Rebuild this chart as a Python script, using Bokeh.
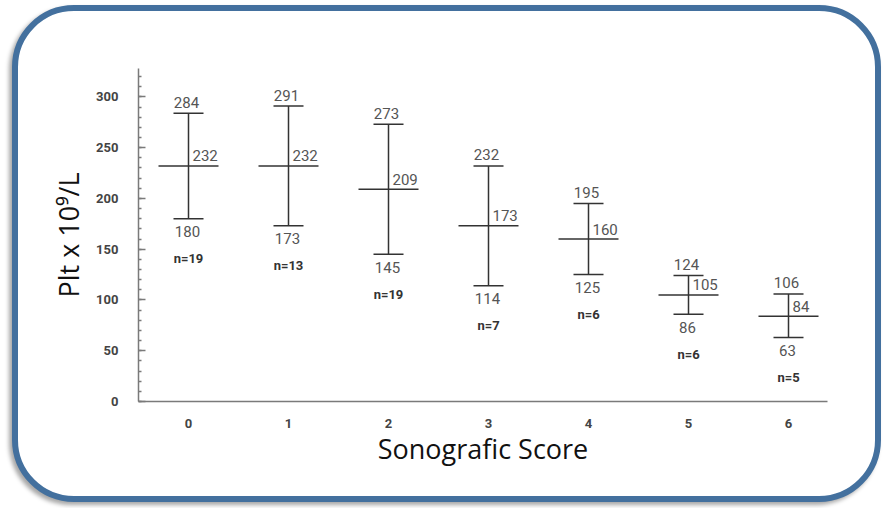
from bokeh.plotting import figure
from bokeh.models import (Range1d, FixedTicker, ColumnDataSource,
                          Whisker, TeeHead, LabelSet)
from bokeh.core.properties import value
from bokeh.embed import file_html
from bokeh.resources import INLINE

# ---- data ----
scores = [0, 1, 2, 3, 4, 5, 6]
means = [232, 232, 209, 173, 160, 105, 84]
uppers = [284, 291, 273, 232, 195, 124, 106]
lowers = [180, 173, 145, 114, 125, 86, 63]
ns = [19, 13, 19, 7, 6, 6, 5]
y_ticks = [0, 50, 100, 150, 200, 250, 300]
y_minor = list(range(0, 330, 10))

x_title = "Sonografic Score"
y_title = "Plt x 10\u2079/L"

# ---- layout ----
OX, OY = 18, 11          # canvas origin on the page (margin + border)
W, H = 869, 497
FL, FR, FT, FB = 138 - OX, 827 - OX, 68 - OY, 401 - OY
X0, X1 = -0.5, 6.39
Y0, Y1 = 0, 328

p = figure(width=W, height=H, output_backend="svg", toolbar_location=None,
           x_range=Range1d(X0, X1), y_range=Range1d(Y0, Y1),
           min_border_left=FL, min_border_right=W - FR,
           min_border_top=FT, min_border_bottom=H - FB)
p.outline_line_color = None
p.xgrid.visible = False
p.ygrid.visible = False
p.background_fill_color = None
p.border_fill_color = None
# rounded blue frame with a soft shadow around the whole chart
p.styles = {
    "box-sizing": "border-box",
    "overflow": "hidden",
    "border": "6px solid #43709e",
    "border-radius": "62px",
    "box-shadow": "-3px 3px 4px rgba(0,0,0,0.35)",
    "margin": "5px 0px 0px 12px",
    "background-color": "white",
}

axis_col = "#7a7a7a"
tick_font = "Roboto"

# x axis
p.xaxis.ticker = FixedTicker(ticks=scores)
p.xaxis.major_tick_line_color = None
p.xaxis.minor_tick_line_color = None
p.xaxis.axis_line_color = axis_col
p.xaxis.axis_line_width = 1.5
p.xaxis.major_label_text_font = tick_font
p.xaxis.major_label_text_font_style = "bold"
p.xaxis.major_label_text_font_size = "13px"
p.xaxis.major_label_text_color = "#444444"
p.xaxis.major_label_standoff = 11
p.xaxis.axis_label = x_title
p.xaxis.axis_label_text_font = "Open Sans"
p.xaxis.axis_label_text_font_style = "normal"
p.xaxis.axis_label_text_font_size = "27px"
p.xaxis.axis_label_text_color = "#111111"
p.xaxis.axis_label_standoff = -1

# y axis
p.yaxis.ticker = FixedTicker(ticks=y_ticks, minor_ticks=y_minor)
p.yaxis.axis_line_color = axis_col
p.yaxis.axis_line_width = 1.5
p.yaxis.major_tick_line_color = axis_col
p.yaxis.major_tick_line_width = 1.5
p.yaxis.major_tick_in = 7
p.yaxis.major_tick_out = 0
p.yaxis.minor_tick_line_color = axis_col
p.yaxis.minor_tick_line_width = 1.5
p.yaxis.minor_tick_in = 3
p.yaxis.minor_tick_out = 0
p.yaxis.major_label_text_font = tick_font
p.yaxis.major_label_text_font_style = "bold"
p.yaxis.major_label_text_font_size = "13px"
p.yaxis.major_label_text_color = "#444444"
p.yaxis.major_label_standoff = 20
p.yaxis.axis_label = y_title
p.yaxis.axis_label_text_font = "Open Sans"
p.yaxis.axis_label_text_font_style = "normal"
p.yaxis.axis_label_text_font_size = "27px"
p.yaxis.axis_label_text_color = "#111111"
p.yaxis.axis_label_standoff = 6

# ---- error bars ----
src = ColumnDataSource(dict(
    x=scores, mean=means, upper=uppers, lower=lowers,
    up_txt=[str(v) for v in uppers],
    lo_txt=[str(v) for v in lowers],
    mean_txt=[str(v) for v in means],
    n_txt=["n=%d" % v for v in ns],
))

bar_col = "#333333"
whisk = Whisker(source=src, base="x", upper="upper", lower="lower",
                dimension="height", line_color=bar_col, line_width=1.5,
                upper_head=TeeHead(size=30, line_color=bar_col, line_width=1.5),
                lower_head=TeeHead(size=30, line_color=bar_col, line_width=1.5))
p.add_layout(whisk)
p.dash(x="x", y="mean", size=60, line_color=bar_col, line_width=1.5, source=src)

val_col = "#555555"
common = dict(source=src, text_font=value("Roboto"), text_font_size=value("15px"),
              text_color=val_col, text_baseline="middle")
p.add_layout(LabelSet(x="x", y="upper", text="up_txt", x_offset=-2, y_offset=11,
                      text_align="center", **common))
p.add_layout(LabelSet(x="x", y="lower", text="lo_txt", x_offset=-1, y_offset=-13,
                      text_align="center", **common))
p.add_layout(LabelSet(x="x", y="mean", text="mean_txt", x_offset=4, y_offset=10,
                      text_align="left", **common))
p.add_layout(LabelSet(x="x", y="lower", text="n_txt", x_offset=0, y_offset=-40,
                      text_align="center", source=src, text_font=value("Roboto"),
                      text_font_size=value("13px"), text_font_style="bold",
                      text_color="#333333", text_baseline="middle"))

open("out.html", "w").write(file_html(p, INLINE))
